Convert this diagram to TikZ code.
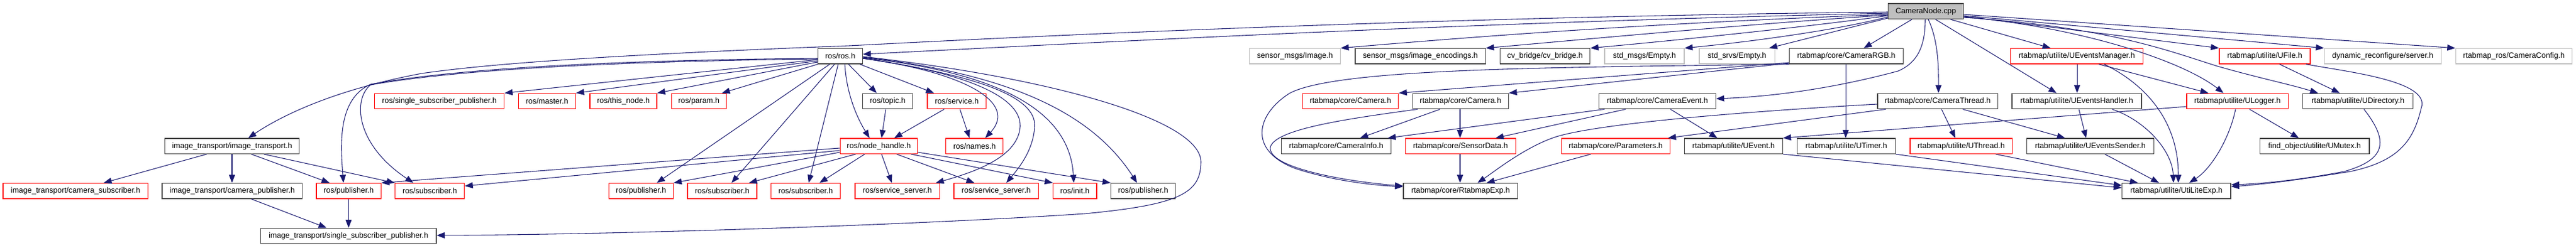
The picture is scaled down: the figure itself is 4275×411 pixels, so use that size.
\documentclass[tikz,border=0pt]{standalone}
\usepackage{fontspec}
\setmainfont{Liberation Sans}
\usetikzlibrary{arrows.meta}
\definecolor{edgec}{HTML}{191970}
\definecolor{blkb}{HTML}{404040}
\definecolor{redb}{HTML}{FF0000}
\definecolor{grayb}{HTML}{BFBFBF}
\definecolor{rootf}{HTML}{BFBFBF}
\newcommand{\mkbox}[6]{\node[#1, minimum width={(#3-#2)*0.75pt}] (#4) at ({(#2+#3)/2},#5) {#6};}
\begin{document}
\begin{tikzpicture}[x=0.75pt,y=-0.75pt,
  bx/.style={rectangle, line width=1pt, minimum height=19.1pt, inner sep=0pt,
    font=\fontsize{9.6}{11}\selectfont, text=black},
  blk/.style={bx, draw=blkb},
  redbx/.style={bx, draw=redb},
  grybx/.style={bx, draw=grayb},
  rootbx/.style={bx, draw=blkb, fill=rootf},
  e/.style={draw=edgec, line width=0.8pt, -{Triangle[length=10pt,width=7.5pt]}}]
\useasboundingbox (0,0) rectangle (4275,411);
% row 0
\mkbox{rootbx}{3133.7}{3258.3}{root}{18.8}{CameraNode.cpp}
% row 1
\mkbox{blk}{1357.7}{1431.3}{rosh}{93.3}{ros/ros.h}
\mkbox{grybx}{2073.7}{2224.3}{img}{93.3}{sensor\_msgs/Image.h}
\mkbox{blk}{2249}{2465.3}{enc}{93.3}{sensor\_msgs/image\_encodings.h}
\mkbox{blk}{2489.3}{2638.7}{cvb}{93.3}{cv\_bridge/cv\_bridge.h}
\mkbox{grybx}{2663}{2795}{stdmsg}{93.3}{std\_msgs/Empty.h}
\mkbox{grybx}{2820}{2945.3}{stdsrv}{93.3}{std\_srvs/Empty.h}
\mkbox{blk}{2969.7}{3158.3}{rgb}{93.3}{rtabmap/core/CameraRGB.h}
\mkbox{redbx}{3336.3}{3556.7}{uem}{93.3}{rtabmap/utilite/UEventsManager.h}
\mkbox{redbx}{3683}{3834}{ufile}{93.3}{rtabmap/utilite/UFile.h}
\mkbox{grybx}{3857.3}{4051.3}{dyn}{93.3}{dynamic\_reconfigure/server.h}
\mkbox{grybx}{4075.3}{4268.7}{cfg}{93.3}{rtabmap\_ros/CameraConfig.h}
% row 2
\mkbox{redbx}{621.7}{836.7}{rssp}{168}{ros/single\_subscriber\_publisher.h}
\mkbox{redbx}{860.3}{955.3}{master}{168}{ros/master.h}
\mkbox{redbx}{979}{1090}{thisnode}{168}{ros/this\_node.h}
\mkbox{redbx}{1114.3}{1205.3}{param}{168}{ros/param.h}
\mkbox{blk}{1431.7}{1514.7}{topic}{168}{ros/topic.h}
\mkbox{redbx}{1539}{1636.7}{service}{168}{ros/service.h}
\mkbox{redbx}{2161.7}{2320.7}{camr}{168}{rtabmap/core/Camera.h}
\mkbox{blk}{2344.3}{2503.3}{camb}{168}{rtabmap/core/Camera.h}
\mkbox{blk}{2653.7}{2847.3}{cevt}{168}{rtabmap/core/CameraEvent.h}
\mkbox{blk}{3116}{3315.3}{cthr}{168}{rtabmap/core/CameraThread.h}
\mkbox{blk}{3339}{3554}{ueh}{168}{rtabmap/utilite/UEventsHandler.h}
\mkbox{redbx}{3629}{3797.3}{ulog}{168}{rtabmap/utilite/ULogger.h}
\mkbox{blk}{3821.7}{4004.7}{udir}{168}{rtabmap/utilite/UDirectory.h}
% row 3
\mkbox{blk}{273.7}{496.7}{itr}{242.7}{image\_transport/image\_transport.h}
\mkbox{redbx}{1394.3}{1522.7}{nh}{242.7}{ros/node\_handle.h}
\mkbox{redbx}{1569.7}{1664.7}{names}{242.7}{ros/names.h}
\mkbox{blk}{2126.7}{2308.3}{cinfo}{242.7}{rtabmap/core/CameraInfo.h}
\mkbox{redbx}{2332.3}{2515.3}{sdata}{242.7}{rtabmap/core/SensorData.h}
\mkbox{redbx}{2591.3}{2771.3}{params}{242.7}{rtabmap/core/Parameters.h}
\mkbox{blk}{2795.7}{2958.3}{uevent}{242.7}{rtabmap/utilite/UEvent.h}
\mkbox{blk}{2982.7}{3145.3}{utimer}{242.7}{rtabmap/utilite/UTimer.h}
\mkbox{redbx}{3170}{3339.3}{uthread}{242.7}{rtabmap/utilite/UThread.h}
\mkbox{blk}{3363.3}{3574.7}{uesend}{242.7}{rtabmap/utilite/UEventsSender.h}
\mkbox{blk}{3750.3}{3932}{umutex}{242.7}{find\_object/utilite/UMutex.h}
% row 4
\mkbox{redbx}{5}{245.7}{csub}{317.2}{image\_transport/camera\_subscriber.h}
\mkbox{blk}{269}{501.7}{cpub}{317.2}{image\_transport/camera\_publisher.h}
\mkbox{redbx}{525}{632.3}{pub1}{317.2}{ros/publisher.h}
\mkbox{redbx}{655.7}{770.7}{sub1}{317.2}{ros/subscriber.h}
\mkbox{redbx}{1010.3}{1117.3}{pub2}{317.2}{ros/publisher.h}
\mkbox{redbx}{1141}{1256}{sub2}{317.2}{ros/subscriber.h}
\mkbox{redbx}{1279.7}{1394.3}{sub3}{317.2}{ros/subscriber.h}
\mkbox{redbx}{1419}{1559.3}{ss1}{317.2}{ros/service\_server.h}
\mkbox{redbx}{1583}{1723.3}{ss2}{317.2}{ros/service\_server.h}
\mkbox{redbx}{1747.7}{1820}{init}{317.2}{ros/init.h}
\mkbox{blk}{1843.7}{1950.7}{pub3}{317.2}{ros/publisher.h}
\mkbox{blk}{2329}{2518.7}{rexp}{317.2}{rtabmap/core/RtabmapExp.h}
\mkbox{blk}{3521.7}{3702}{uexp}{317.2}{rtabmap/utilite/UtiLiteExp.h}
% row 5
\mkbox{blk}{432.7}{724}{issp}{391.9}{image\_transport/single\_subscriber\_publisher.h}

% ---- edges from root
\draw[e] (root.west |- 0,20) .. controls (2500,27) and (1900,50) .. (1410,76) .. controls (1150,86) and (850,100) .. (700,122) .. controls (560,148) and (470,190) .. (itr.north -| 412,0);
\draw[e] (root.west |- 0,22) .. controls (2400,38) and (1800,72) .. (rosh.east |- 0,90);
\draw[e] (root.west |- 0,24) .. controls (2700,40) and (2400,65) .. (img.north east);
\draw[e] (root.west |- 0,25) .. controls (2900,40) and (2600,68) .. (enc.north east);
\draw[e] (root.west |- 0,26) .. controls (3000,45) and (2750,70) .. (cvb.north east);
\draw[e] (root.west |- 0,28) .. controls (3050,50) and (2900,70) .. (stdmsg.north east);
\draw[e] (root.west |- 0,30) -- (stdsrv.north -| 2936,0);
\draw[e] (root.south -| 3173,0) -- (rgb.north -| 3093,0);
\draw[e] (root.south -| 3195,0) .. controls (3195,80) and (3180,105) .. (3150,118) .. controls (3050,145) and (2950,160) .. (cevt.east |- 0,164);
\draw[e] (root.south -| 3200,0) .. controls (3218,70) and (3217,120) .. (cthr.north -| 3217,0);
\draw[e] (root.south -| 3212,0) -- (ueh.north -| 3413,0);
\draw[e] (root.south -| 3237,0) -- (uem.north -| 3403,0);
\draw[e] (root.east |- 0,27) -- (ufile.north west);
\draw[e] (root.east |- 0,28) .. controls (3450,45) and (3620,100) .. (ulog.north -| 3690,0);
\draw[e] (root.east |- 0,29) .. controls (3500,45) and (3600,85) .. (3680,110) .. controls (3750,130) and (3800,140) .. (udir.north -| 3847,0);
\draw[e] (root.east |- 0,26) -- (dyn.north west);
\draw[e] (root.east |- 0,24) -- (cfg.north west);

% ---- edges from ros.h
\draw[e] (rosh.west |- 0,99) -- (rssp.north east);
\draw[e] (rosh.west |- 0,101) -- (master.north east);
\draw[e] (rosh.west |- 0,103) -- (thisnode.north east);
\draw[e] (rosh.south west) -- (param.north -| 1198,0);
\draw[e] (rosh.south -| 1377,0) -- (pub2.north -| 1090,0);
\draw[e] (rosh.south -| 1385,0) -- (sub2.north -| 1214,0);
\draw[e] (rosh.south -| 1391,0) -- (sub3.north -| 1342,0);
\draw[e] (rosh.south -| 1402,0) .. controls (1405,160) and (1425,200) .. (nh.north -| 1443,0);
\draw[e] (rosh.south -| 1408,0) -- (topic.north -| 1455,0);
\draw[e] (rosh.south -| 1427,0) -- (service.north -| 1550,0);
\draw[e] (rosh.east |- 0,97) .. controls (1600,120) and (1690,170) .. (names.north -| 1635,0);
\draw[e] (rosh.east |- 0,97) .. controls (1600,120) and (1695,160) .. (1693,210) .. controls (1690,260) and (1620,285) .. (ss1.north -| 1553,0);
\draw[e] (rosh.east |- 0,97) .. controls (1620,125) and (1720,160) .. (1717,210) .. controls (1715,250) and (1690,280) .. (ss2.north -| 1670,0);
\draw[e] (rosh.east |- 0,96) .. controls (1650,120) and (1775,180) .. (init.north -| 1782,0);
\draw[e] (rosh.east |- 0,95) .. controls (1700,125) and (1820,200) .. (pub3.north -| 1887,0);
\draw[e] (rosh.east |- 0,94) .. controls (1750,130) and (1995,200) .. (1993,270) .. controls (1992,320) and (1960,340) .. (1800,355) .. controls (1500,375) and (1000,390) .. (issp.east |- 0,391);
\draw[e] (rosh.west |- 0,97) .. controls (1000,100) and (750,115) .. (615,140) .. controls (560,165) and (565,240) .. (pub1.north -| 570,0);
\draw[e] (rosh.west |- 0,98) .. controls (1000,102) and (750,117) .. (615,141) .. controls (585,165) and (590,240) .. (sub1.north -| 686,0);

% ---- node_handle
\draw[e] (nh.west |- 0,246) -- (pub1.north east);
\draw[e] (nh.west |- 0,250) -- (sub1.east |- 0,309);
\draw[e] (nh.west |- 0,253) -- (pub2.north east);
\draw[e] (nh.south -| 1420,0) -- (sub2.north -| 1243,0);
\draw[e] (nh.south -| 1435,0) -- (sub3.north -| 1360,0);
\draw[e] (nh.south -| 1463,0) -- (ss1.north -| 1480,0);
\draw[e] (nh.south -| 1488,0) -- (ss2.north -| 1617,0);
\draw[e] (nh.south -| 1512,0) -- (init.north west);
\draw[e] (nh.east |- 0,253) -- (pub3.north west);

% ---- topic / service
\draw[e] (topic.south -| 1470,0) -- (nh.north -| 1463,0);
\draw[e] (service.south -| 1567,0) -- (nh.north -| 1484,0);
\draw[e] (service.south -| 1593,0) -- (names.north -| 1609,0);

% ---- image_transport
\draw[e] (itr.south -| 343,0) -- (csub.north -| 172,0);
\draw[e] (itr.south -| 385,0) -- (cpub.north -| 385,0);
\draw[e] (itr.south -| 417,0) -- (pub1.north -| 547,0);
\draw[e] (itr.south -| 438,0) -- (sub1.north west);
\draw[e] (cpub.south -| 417,0) -- (issp.north -| 542,0);
\draw[e] (pub1.south -| 578.5,0) -- (issp.north -| 578.5,0);

% ---- rtabmap core
\draw[e] (rgb.west |- 0,104) -- (camr.north east);
\draw[e] (rgb.west |- 0,105) -- (camb.north east);
\draw[e] (rgb.south west) .. controls (2600,112) and (2220,112) .. (2140,155) .. controls (2085,190) and (2070,250) .. (2150,280) .. controls (2210,300) and (2280,308) .. (rexp.west |- 0,310);
\draw[e] (camb.south -| 2353,0) .. controls (2230,198) and (2115,215) .. (2108,245) .. controls (2105,280) and (2240,302) .. (rexp.west |- 0,309);
\draw[e] (camb.south -| 2390,0) -- (cinfo.north -| 2257,0);
\draw[e] (camb.south -| 2423,0) -- (sdata.north -| 2423,0);
\draw[e] (sdata.south -| 2423,0) -- (rexp.north -| 2423,0);
\draw[e] (cevt.south -| 2663,0) -- (cinfo.north -| 2303,0);
\draw[e] (cevt.south -| 2698,0) -- (sdata.north -| 2482,0);
\draw[e] (cevt.south -| 2772,0) -- (uevent.north -| 2850,0);
\draw[e] (cthr.south -| 3130,0) -- (params.north -| 2768,0);
\draw[e] (cthr.west |- 0,173) .. controls (2900,185) and (2650,205) .. (2580,228) .. controls (2530,245) and (2480,285) .. (rexp.north -| 2452,0);
\draw[e] (params.south -| 2640,0) -- (rexp.north -| 2467,0);
\draw[e] (cthr.south -| 3222,0) -- (uthread.north -| 3245,0);
\draw[e] (cthr.south -| 3257,0) -- (uesend.north -| 3427,0);
\draw[e] (rgb.south -| 3063,0) -- (utimer.north -| 3063,0);

% ---- utilite
\draw[e] (ueh.south -| 3450,0) -- (uesend.north -| 3462,0);
\draw[e] (uem.south -| 3447,0) -- (ueh.north -| 3447,0);
\draw[e] (uem.south -| 3483,0) -- (ulog.north -| 3665,0);
\draw[e] (uem.south -| 3492,0) .. controls (3560,140) and (3615,200) .. (uexp.north -| 3615,0);
\draw[e] (ueh.south -| 3505,0) .. controls (3560,200) and (3605,250) .. (uexp.north -| 3607,0);
\draw[e] (uesend.south -| 3493,0) -- (uexp.north -| 3583,0);
\draw[e] (uthread.south -| 3312,0) -- (uexp.north -| 3548,0);
\draw[e] (utimer.south east) -- (uexp.west |- 0,308);
\draw[e] (uevent.south east) -- (uexp.west |- 0,312);
\draw[e] (ulog.west |- 0,177) -- (uevent.north east);
\draw[e] (ulog.south -| 3710,0) .. controls (3700,230) and (3670,280) .. (uexp.north -| 3633,0);
\draw[e] (ulog.south -| 3733,0) -- (umutex.north -| 3815,0);
\draw[e] (ufile.south -| 3783,0) -- (udir.north -| 3883,0);
\draw[e] (ufile.south -| 3827,0) .. controls (3900,120) and (4035,135) .. (4018,180) .. controls (4005,235) and (3980,268) .. (3900,285) .. controls (3820,298) and (3760,306) .. (uexp.east |- 0,310);
\draw[e] (udir.south -| 3923,0) .. controls (3965,235) and (3960,265) .. (3890,285) .. controls (3820,298) and (3760,305) .. (uexp.east |- 0,307);
\end{tikzpicture}
\end{document}
